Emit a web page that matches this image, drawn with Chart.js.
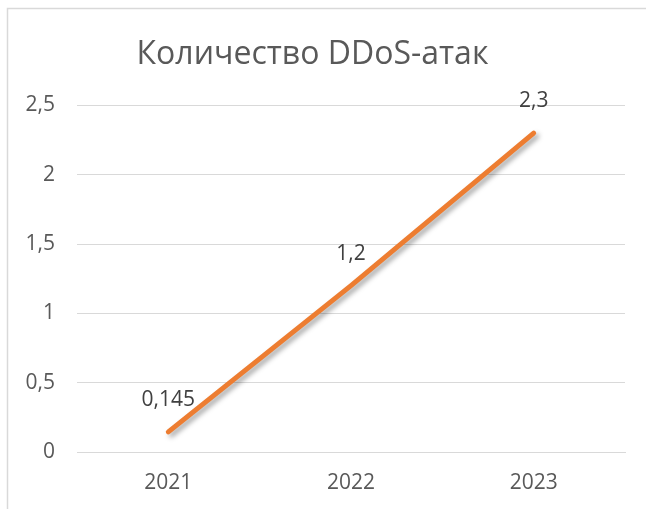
<!DOCTYPE html>
<html>
<head>
<meta charset="utf-8">
<script src="https://cdn.jsdelivr.net/npm/chart.js@4"></script>
<style>
  html, body { margin: 0; padding: 0; background: #fff; }
  #wrap { width: 646px; height: 509px; }
</style>
</head>
<body>
<div id="wrap"><canvas id="chartDdos" width="646" height="509"></canvas></div>
<script>
const years = ['2021', '2022', '2023'];
const attacks = [0.145, 1.2, 2.3];
const valueLabels = ['0,145', '1,2', '2,3'];

const fontName = '"Open Sans", "Noto Sans", sans-serif';

// рамка диаграммы (как в Excel)
const framePlugin = {
    id: 'frame',
    beforeDraw(chart) {
        const c = chart.ctx;
        c.save();
        c.fillStyle = '#fff';
        c.fillRect(0, 0, chart.width, chart.height);
        c.strokeStyle = '#d9d9d9';
        c.lineWidth = 1.5;
        c.beginPath();
        c.moveTo(7.5, chart.height);
        c.lineTo(7.5, 8.5);
        c.lineTo(chart.width, 8.5);
        c.stroke();
        c.restore();
    }
};

// тень под линией
const shadowPlugin = {
    id: 'lineShadow',
    beforeDatasetDraw(chart) {
        const c = chart.ctx;
        c.save();
        c.shadowColor = 'rgba(0, 0, 0, 0.35)';
        c.shadowBlur = 5;
        c.shadowOffsetX = 3;
        c.shadowOffsetY = 3;
    },
    afterDatasetDraw(chart) {
        chart.ctx.restore();
    }
};

// подписи значений
const labelPlugin = {
    id: 'valueLabels',
    afterDatasetsDraw(chart) {
        const c = chart.ctx;
        const meta = chart.getDatasetMeta(0);
        c.save();
        c.font = '21px ' + fontName;
        c.fillStyle = '#404040';
        c.textAlign = 'center';
        c.textBaseline = 'middle';
        meta.data.forEach((pt, i) => {
            c.fillText(valueLabels[i], pt.x, pt.y - 32);
        });
        c.restore();
    }
};

const chartDdos = new Chart(document.getElementById('chartDdos'), {
    type: 'line',
    data: {
        labels: years,
        datasets: [{
            label: 'Количество DDoS-атак',
            data: attacks,
            borderColor: '#ED7D31',
            borderWidth: 5,
            borderCapStyle: 'round',
            pointRadius: 0,
            tension: 0
        }]
    },
    options: {
        responsive: false,
        animation: false,
        layout: { padding: { left: 0, right: 21, top: 0, bottom: 0 } },
        plugins: {
            legend: { display: false },
            tooltip: { enabled: false },
            title: {
                display: true,
                text: 'Количество DDoS-атак',
                color: '#595959',
                font: { family: fontName, size: 32, weight: 'normal', lineHeight: 1.2 },
                padding: { top: 36, bottom: 31 }
            }
        },
        scales: {
            x: {
                offset: true,
                grid: { display: false },
                border: { color: '#d9d9d9' },
                ticks: { color: '#595959', font: { family: fontName, size: 21 }, padding: 10 },
                afterFit(scale) { scale.height = 57; }
            },
            y: {
                min: 0,
                max: 2.5,
                grid: { color: '#d9d9d9', drawTicks: false },
                border: { display: false },
                ticks: {
                    stepSize: 0.5,
                    color: '#595959',
                    font: { family: fontName, size: 21 },
                    padding: 22,
                    callback: v => String(v).replace('.', ',')
                },
                afterFit(scale) { scale.width = 77; }
            }
        }
    },
    plugins: [framePlugin, shadowPlugin, labelPlugin]
});
</script>
</body>
</html>
